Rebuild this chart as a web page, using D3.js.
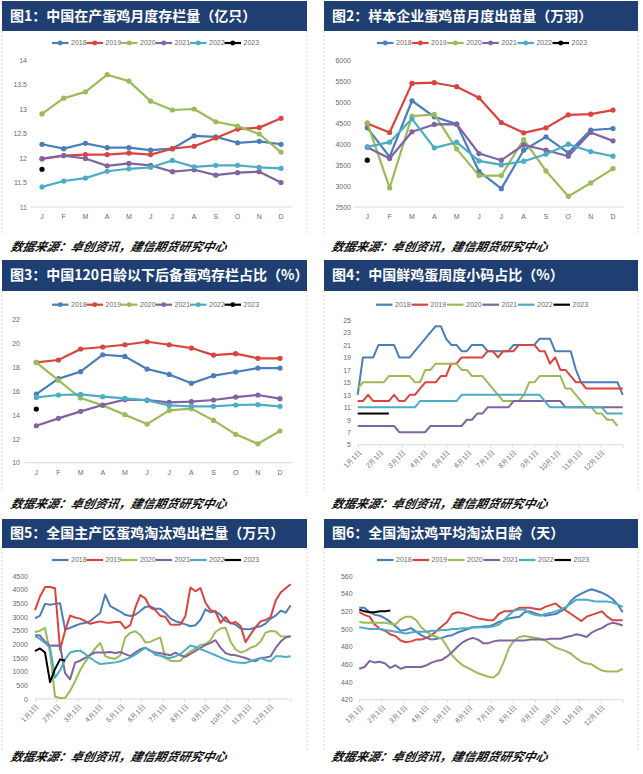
<!DOCTYPE html>
<html><head><meta charset="utf-8">
<script src="https://cdn.jsdelivr.net/npm/d3@7/dist/d3.min.js"></script>
<style>body{margin:0;background:#fff}svg{display:block}</style>
</head><body>
<svg id="c" width="643" height="774"></svg>
<script>
// ---------- data ----------
const years = ["2018","2019","2020","2021","2022","2023"];
const seriesColors = ["#4a7ebb","#d9443f","#9bbb59","#8064a2","#4bacc6","#000000"];
const monthLabels = ["J","F","M","A","M","J","J","A","S","O","N","D"];
const dateLabels = ["1月1日","2月1日","3月1日","4月1日","5月1日","6月1日","7月1日","8月1日","9月1日","10月1日","11月1日","12月1日"];
const titles = ["图1：中国在产蛋鸡月度存栏量（亿只）","图2：样本企业蛋鸡苗月度出苗量（万羽）","图3：中国120日龄以下后备蛋鸡存栏占比（%）","图4：中国鲜鸡蛋周度小码占比（%）","图5：全国主产区蛋鸡淘汰鸡出栏量（万只）","图6：全国淘汰鸡平均淘汰日龄（天）"];
const sourceText = "数据来源：卓创资讯，建信期货研究中心";

// Fig 1
const p1_2018 = [12.28,12.19,12.30,12.21,12.21,12.16,12.19,12.45,12.43,12.31,12.34,12.28];
const p1_2019 = [11.98,12.05,12.07,12.07,12.10,12.07,12.19,12.24,12.41,12.59,12.62,12.81];
const p1_2020 = [12.90,13.22,13.35,13.70,13.57,13.16,12.98,13.00,12.74,12.65,12.49,12.12];
const p1_2021 = [11.99,12.05,11.99,11.84,11.89,11.85,11.72,11.76,11.65,11.70,11.72,11.50];
const p1_2022 = [11.41,11.53,11.59,11.73,11.78,11.81,11.95,11.82,11.85,11.85,11.81,11.79];
const p1_2023 = [11.77];
const p1_ticks = [11,11.5,12,12.5,13,13.5,14];

// Fig 2
const p2_2018 = [4385,3693,5030,4648,4473,3351,2937,3852,4170,3789,4330,4369];
const p2_2019 = [4489,4274,5443,5459,5364,5101,4512,4266,4385,4695,4711,4807];
const p2_2020 = [4504,2953,4664,4703,3884,3248,3248,4107,3359,2754,3073,3415];
const p2_2021 = [3924,3653,4290,4465,4473,3773,3614,3979,3852,3709,4274,4075];
const p2_2022 = [3932,4043,4600,3908,4043,3598,3502,3590,3757,3995,3820,3709];
const p2_2023 = [3614];
const p2_ticks = [2500,3000,3500,4000,4500,5000,5500,6000];

// Fig 3
const p3_2018 = [15.76,17.05,17.64,19.06,18.92,17.86,17.41,16.66,17.30,17.61,17.94,17.94];
const p3_2019 = [18.42,18.62,19.54,19.71,19.90,20.15,19.90,19.62,19.03,19.15,18.76,18.76];
const p3_2020 = [18.42,16.91,15.43,14.81,14.03,13.24,14.39,14.53,13.55,12.38,11.59,12.66];
const p3_2021 = [13.10,13.72,14.31,14.84,15.29,15.26,15.06,15.12,15.26,15.51,15.68,15.37];
const p3_2022 = [15.48,15.68,15.73,15.54,15.40,15.23,14.81,14.73,14.73,14.84,14.87,14.73];
const p3_2023 = [14.50];
const p3_ticks = [10,12,14,16,18,20,22];

// Fig 4 (weekly)
const p4_2018 = [13,19,19,19,21,21,21,21,19,19,19,20,21,22,23,24,24,22,21,21,20,20,21,21,21,20,20,20,20,20,21,21,21,21,21,22,22,22,20,20,20,20,17,15,15,15,15,15,15,15,15,13];
const p4_2019 = [12,12,13,12,12,12,12,13,12,12,13,13,14,15,15,15,16,16,18,18,19,19,19,19,19,20,20,19,20,20,20,21,21,21,21,20,20,18,19,17,17,16,15,15,14,14,14,14,14,14,14,14];
const p4_2020 = [14,15,15,15,15,15,16,16,16,16,16,15,15,17,17,18,18,18,18,18,17,17,16,16,16,15,14,13,12,12,12,12,13,15,15,16,16,16,16,16,14,14,13,12,11,11,10,10,9,9,8];
const p4_2021 = [8,8,8,8,8,8,8,8,7,7,7,7,7,7,8,8,8,8,8,8,8,9,9,10,10,11,11,11,11,11,12,12,12,12,12,12,12,12,12,12,11,11,11,11,11,11,11,11,11,11,11,11];
const p4_2022 = [11,11,11,11,11,11,11,11,11,11,11,11,12,12,12,12,12,12,12,12,13,13,13,13,13,13,13,13,13,13,13,13,13,13,13,13,12,11,11,11,11,11,11,11,11,11,11,11,10,10,10,10];
const p4_2023 = [10,10,10,10,10,10,10];
const p4_ticks = [5,7,9,11,13,15,17,19,21,23,25];

// Fig 5 (weekly)
const p5_2018 = [2950,3050,3480,3450,3480,3500,2550,2600,2680,2750,2780,2850,3000,3150,3820,3400,3300,3200,3080,3040,3080,3220,3370,3390,3300,3300,3150,2950,2850,2790,2730,2660,2700,2900,3280,3170,3210,3080,2850,2790,2720,2580,2550,2560,2620,2660,2760,2940,3050,3230,3160,3430];
const p5_2019 = [3250,3750,4100,4100,4050,1800,2500,3050,2980,2940,2850,2750,2800,2840,2800,2790,2820,2820,2580,2700,3340,3800,3680,3340,3250,3040,3010,2730,2720,2730,3040,4080,3940,4060,3520,3250,3200,2790,3000,2760,2820,2670,2080,2370,2630,2840,2890,3000,3600,3900,4050,4200];
const p5_2020 = [2450,2500,2600,1700,80,40,40,300,650,1050,1350,1600,1850,2050,1570,1500,1470,1600,2250,2420,2480,2350,2070,2090,2180,2250,1500,1400,1380,1400,1600,1740,1850,1980,2000,2150,2450,2580,2610,2100,1820,1700,1760,1880,1940,2100,2430,2490,2470,2300,2290,2290];
const p5_2021 = [2330,2320,2100,1950,1960,1950,950,720,1330,1400,1500,1620,1700,1700,1700,1720,1680,1720,1640,1570,1700,1820,1880,1760,1700,1670,1640,1600,1700,1600,1540,1650,1760,1870,1980,2050,2150,1880,1680,1620,1600,1550,1500,1420,1380,1500,1520,1560,1870,2100,2250,2300];
const p5_2022 = [2300,2200,2050,1880,780,1050,1450,1700,1750,1770,1650,1500,1380,1280,1300,1320,1340,1380,1450,1520,1620,1750,1870,1780,1620,1580,1520,1500,1560,1650,1800,1960,1900,1830,1750,1680,1600,1520,1440,1380,1340,1330,1320,1380,1450,1500,1420,1380,1560,1560,1540,1560];
const p5_2023 = [1750,1850,1700,620,1100,1450,1400];
const p5_ticks = [0,500,1000,1500,2000,2500,3000,3500,4000,4500];

// Fig 6 (weekly)
const p6_2018 = [524,524,519,516,515,512,508,503,498,499,501,497,493,490,488,489,490,492,493,496,498,500,502,502,503,503,505,508,510,512,513,514,519,520,518,516,515,516,517,520,524,532,537,540,543,545,543,541,538,534,528,519];
const p6_2019 = [519,516,514,505,500,498,494,492,487,485,486,488,488,490,493,498,503,508,517,519,518,516,514,512,511,510,510,517,520,520,521,524,524,524,523,522,525,527,529,524,521,517,513,509,514,516,518,520,514,510,510,510];
const p6_2020 = [508,507,507,507,507,507,506,505,511,514,514,510,502,497,493,491,489,480,470,464,459,456,453,450,448,446,445,450,463,479,487,491,492,491,490,489,487,483,479,477,475,472,467,463,461,460,456,453,452,452,452,455];
const p6_2021 = [455,457,464,462,463,461,456,459,455,457,457,457,457,459,462,464,465,469,474,480,485,488,490,488,484,484,486,487,487,487,487,487,487,488,488,488,488,489,489,489,491,492,494,493,491,496,499,501,505,507,506,504];
const p6_2022 = [502,501,500,500,500,499,498,497,496,495,496,497,497,497,498,498,499,499,500,500,501,501,502,502,502,502,503,505,510,516,521,522,522,518,516,515,517,518,520,522,525,529,533,533,533,532,531,531,531,530,528,525];
const p6_2023 = [522,520,519,519,520,520,521];
const p6_ticks = [420,440,460,480,500,520,540,560];

// ---------- drawing ----------
const svg = d3.select("#c");
const FONT = "'Liberation Sans', Arial, sans-serif";
const CJK = "'Noto Sans CJK SC', sans-serif";

function drawPanel(cfg) {
  const g = svg.append("g").attr("transform", `translate(${cfg.ox},${cfg.oy})`);
  // dashed frame sides
  [cfg.barX0, cfg.barX1].forEach(x => {
    g.append("line").attr("x1", x).attr("x2", x).attr("y1", cfg.barY1).attr("y2", 234)
      .attr("stroke", "#c9c9c9").attr("stroke-width", 0.8).attr("stroke-dasharray", "2,2");
  });
  // title bar
  g.append("rect").attr("x", cfg.barX0).attr("y", cfg.barY0)
    .attr("width", cfg.barX1 - cfg.barX0).attr("height", cfg.barY1 - cfg.barY0)
    .attr("fill", "#1f3f73");
  g.append("text").attr("x", cfg.barX0 + 8).attr("y", (cfg.barY0 + cfg.barY1) / 2 + 1)
    .attr("dominant-baseline", "middle")
    .attr("fill", "#fff").attr("font-family", CJK).attr("font-weight", "bold")
    .attr("font-size", 14).text(cfg.title);
  // source (slanted like the original italic)
  g.append("text").attr("transform", `translate(10,${cfg.sourceY}) skewX(-14)`)
    .attr("font-family", CJK).attr("font-weight", "bold").attr("font-style", "italic")
    .attr("font-size", 12).attr("fill", "#111").text(sourceText);

  // scales
  const y = d3.scaleLinear().domain(cfg.yDomain).range([cfg.plotBottom, cfg.plotTop]);
  let xPos, monthX;
  if (cfg.type === "monthly") {
    const x = d3.scalePoint().domain(d3.range(12)).range([cfg.xStart, cfg.xEnd]);
    xPos = i => x(i);
  } else {
    const xw = d3.scaleLinear().domain([0, 51]).range([cfg.xStart, cfg.xEnd]);
    xPos = i => xw(i);
    monthX = d3.scaleLinear().domain([0, 12]).range([cfg.xStart, cfg.xEnd]);
  }

  // y axis labels
  const yAxis = d3.axisLeft(y).tickValues(cfg.yTicks).tickSize(0).tickPadding(0)
    .tickFormat(d => String(d));
  const ya = g.append("g").attr("transform", `translate(${cfg.labelRight},0)`).call(yAxis);
  ya.select(".domain").remove();
  ya.selectAll("text").attr("font-family", FONT).attr("font-size", 7).attr("fill", "#6a6a6a");

  // x axis line
  g.append("line").attr("x1", cfg.axisX0).attr("x2", cfg.axisX1)
    .attr("y1", cfg.plotBottom).attr("y2", cfg.plotBottom)
    .attr("stroke", "#d9d9d9").attr("stroke-width", 1);

  if (cfg.type === "monthly") {
    g.selectAll(".ml").data(monthLabels).enter().append("text")
      .attr("x", (d, i) => xPos(i)).attr("y", cfg.xLabelY)
      .attr("text-anchor", "middle").attr("dominant-baseline", "middle")
      .attr("font-family", FONT).attr("font-size", 7).attr("fill", "#6a6a6a").text(d => d);
  } else {
    const xa = d3.axisBottom(monthX).tickValues(d3.range(13)).tickSize(3).tickFormat("");
    const xg = g.append("g").attr("transform", `translate(0,${cfg.plotBottom})`).call(xa);
    xg.select(".domain").remove();
    xg.selectAll("line").attr("stroke", "#d9d9d9");
    g.selectAll(".dl").data(dateLabels).enter().append("text")
      .attr("transform", (d, i) => `translate(${monthX(i) + 3},${cfg.plotBottom + 7}) rotate(-45)`)
      .attr("text-anchor", "end").attr("dominant-baseline", "middle")
      .attr("font-family", FONT).attr("font-size", 7).attr("fill", "#6a6a6a").text(d => d);
  }

  // lines
  const line = d3.line().x((d, i) => xPos(i)).y(d => y(d));
  cfg.series.forEach((s, k) => {
    if (s.length > 1) {
      g.append("path").datum(s).attr("d", line).attr("fill", "none")
        .attr("stroke", seriesColors[k]).attr("stroke-width", cfg.type === "monthly" ? 2.2 : 2)
        .attr("stroke-linejoin", "round");
    }
    if (cfg.type === "monthly") {
      g.selectAll(null).data(s).enter().append("circle")
        .attr("cx", (d, i) => xPos(i)).attr("cy", d => y(d)).attr("r", 2.6)
        .attr("fill", seriesColors[k]);
    }
  });

  // legend
  years.forEach((yr, k) => {
    const lx = cfg.legendX + k * cfg.legendStep;
    g.append("line").attr("x1", lx).attr("x2", lx + 16.5)
      .attr("y1", cfg.legendY).attr("y2", cfg.legendY)
      .attr("stroke", seriesColors[k]).attr("stroke-width", 2.2);
    if (cfg.type === "monthly") {
      g.append("circle").attr("cx", lx + 8.25).attr("cy", cfg.legendY).attr("r", 2.4)
        .attr("fill", seriesColors[k]);
    }
    g.append("text").attr("x", lx + 19).attr("y", cfg.legendY)
      .attr("dominant-baseline", "middle").attr("font-family", FONT)
      .attr("font-size", 7).attr("fill", "#6a6a6a").text(yr);
  });
}

drawPanel({ox:0, oy:0, barX0:2, barX1:307, barY0:1, barY1:31, title:titles[0], sourceY:251,
  legendX:52, legendStep:34.5, legendY:43, type:"monthly",
  plotTop:60, plotBottom:207, xStart:42, xEnd:281, axisX0:31, axisX1:292, labelRight:27, xLabelY:217,
  yDomain:[11,14], yTicks:p1_ticks, series:[p1_2018,p1_2019,p1_2020,p1_2021,p1_2022,p1_2023]});

drawPanel({ox:321, oy:0, barX0:3, barX1:317, barY0:1, barY1:31, title:titles[1], sourceY:251,
  legendX:56, legendStep:35.1, legendY:43, type:"monthly",
  plotTop:60, plotBottom:207, xStart:46.3, xEnd:292, axisX0:33, axisX1:303, labelRight:30, xLabelY:217,
  yDomain:[2500,6000], yTicks:p2_ticks, series:[p2_2018,p2_2019,p2_2020,p2_2021,p2_2022,p2_2023]});

drawPanel({ox:0, oy:258, barX0:2, barX1:307, barY0:2, barY1:33, title:titles[2], sourceY:250,
  legendX:52, legendStep:34.5, legendY:46.7, type:"monthly",
  plotTop:61.7, plotBottom:204.7, xStart:36.3, xEnd:280, axisX0:25, axisX1:292, labelRight:20, xLabelY:215,
  yDomain:[10,22], yTicks:p3_ticks, series:[p3_2018,p3_2019,p3_2020,p3_2021,p3_2022,p3_2023]});

drawPanel({ox:321, oy:258, barX0:3, barX1:317, barY0:2, barY1:33, title:titles[3], sourceY:250,
  legendX:55, legendStep:35.5, legendY:46.7, type:"weekly",
  plotTop:62, plotBottom:186.7, xStart:36.7, xEnd:301.7, axisX0:36.7, axisX1:301.7, labelRight:30,
  yDomain:[5,25], yTicks:p4_ticks, series:[p4_2018,p4_2019,p4_2020,p4_2021,p4_2022,p4_2023]});

drawPanel({ox:0, oy:516, barX0:2, barX1:307, barY0:3, barY1:32, title:titles[4], sourceY:245,
  legendX:52, legendStep:34.5, legendY:44, type:"weekly",
  plotTop:60, plotBottom:183, xStart:35, xEnd:290.7, axisX0:35, axisX1:290.7, labelRight:28,
  yDomain:[0,4500], yTicks:p5_ticks, series:[p5_2018,p5_2019,p5_2020,p5_2021,p5_2022,p5_2023]});

drawPanel({ox:321, oy:516, barX0:3, barX1:317, barY0:3, barY1:32, title:titles[5], sourceY:245,
  legendX:56, legendStep:35.5, legendY:44, type:"weekly",
  plotTop:60, plotBottom:183.7, xStart:38.3, xEnd:301.7, axisX0:38.3, axisX1:301.7, labelRight:31.6,
  yDomain:[420,560], yTicks:p6_ticks, series:[p6_2018,p6_2019,p6_2020,p6_2021,p6_2022,p6_2023]});
</script>
</body></html>
